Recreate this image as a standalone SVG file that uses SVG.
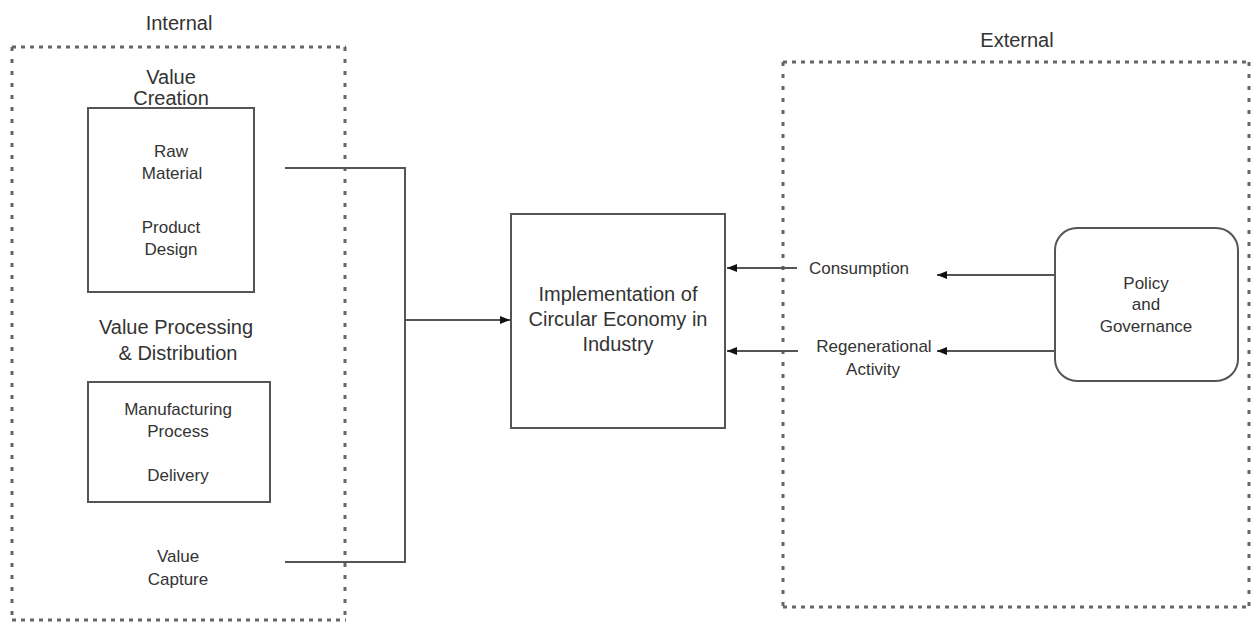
<svg xmlns="http://www.w3.org/2000/svg" width="1251" height="622" viewBox="0 0 1251 622">
<defs>
<style>
text{font-family:"Liberation Sans",Arial,sans-serif;fill:#333;text-anchor:middle}
.h{font-size:20px}
.b{font-size:17px}
.box{fill:none;stroke:#555;stroke-width:2}
.dh{stroke:#666;stroke-width:3;stroke-dasharray:4 5;fill:none}
.dv{stroke:#666;stroke-width:3;stroke-dasharray:4 8;fill:none}
.ln{fill:none;stroke:#555;stroke-width:2}
</style>
<marker id="ah" viewBox="0 0 10 10" refX="10" refY="5" markerWidth="10" markerHeight="10" markerUnits="userSpaceOnUse" orient="auto">
<path d="M0,1 L10,5 L0,9 Z" fill="#111"/>
</marker>
</defs>
<rect width="1251" height="622" fill="#fff"/>

<g id="internal">
<line class="dh" x1="12" y1="47" x2="346" y2="47"/>
<line class="dh" x1="12" y1="620" x2="346" y2="620"/>
<line class="dv" x1="12" y1="47" x2="12" y2="620"/>
<line class="dv" x1="345" y1="47" x2="345" y2="620"/>
<text class="h" x="179" y="30">Internal</text>
</g>

<g id="external">
<line class="dh" x1="783" y1="62" x2="1250" y2="62"/>
<line class="dh" x1="783" y1="607" x2="1250" y2="607"/>
<line class="dv" x1="783" y1="62" x2="783" y2="607"/>
<line class="dv" x1="1249" y1="62" x2="1249" y2="607"/>
<text class="h" x="1017" y="47">External</text>
</g>

<g id="value-creation">
<text class="h" x="171" y="84">Value</text>
<text class="h" x="171" y="105">Creation</text>
<rect class="box" x="88" y="108" width="166" height="184"/>
<text class="b" x="171" y="157">Raw</text>
<text class="b" x="172" y="179">Material</text>
<text class="b" x="171" y="233">Product</text>
<text class="b" x="171" y="255">Design</text>
</g>

<g id="value-processing">
<text class="h" x="176" y="334">Value Processing</text>
<text class="h" x="178" y="360">&amp; Distribution</text>
<rect class="box" x="88" y="382" width="182" height="120"/>
<text class="b" x="178" y="415">Manufacturing</text>
<text class="b" x="178" y="437">Process</text>
<text class="b" x="178" y="481">Delivery</text>
</g>

<g id="value-capture">
<text class="b" x="178" y="562">Value</text>
<text class="b" x="178" y="585">Capture</text>
</g>

<g id="implementation">
<rect class="box" x="511" y="214" width="214" height="214"/>
<text class="h" x="618" y="301">Implementation of</text>
<text class="h" x="618" y="326">Circular Economy in</text>
<text class="h" x="618" y="351">Industry</text>
</g>

<g id="consumption">
<text class="b" x="859" y="274">Consumption</text>
</g>

<g id="regenerational">
<text class="b" x="874" y="352">Regenerational</text>
<text class="b" x="873" y="375">Activity</text>
</g>

<g id="policy">
<rect class="box" x="1055" y="228" width="183" height="153" rx="22" ry="22"/>
<text class="b" x="1146" y="289">Policy</text>
<text class="b" x="1146" y="310">and</text>
<text class="b" x="1146" y="332">Governance</text>
</g>

<g id="connectors">
<polyline class="ln" points="285,168 405,168 405,562 285,562"/>
<line class="ln" x1="405" y1="320" x2="510" y2="320" marker-end="url(#ah)"/>
<line class="ln" x1="797" y1="268" x2="727" y2="268" marker-end="url(#ah)"/>
<line class="ln" x1="798" y1="351" x2="727" y2="351" marker-end="url(#ah)"/>
<line class="ln" x1="1055" y1="275" x2="937" y2="275" marker-end="url(#ah)"/>
<line class="ln" x1="1055" y1="351" x2="937" y2="351" marker-end="url(#ah)"/>
</g>
</svg>
